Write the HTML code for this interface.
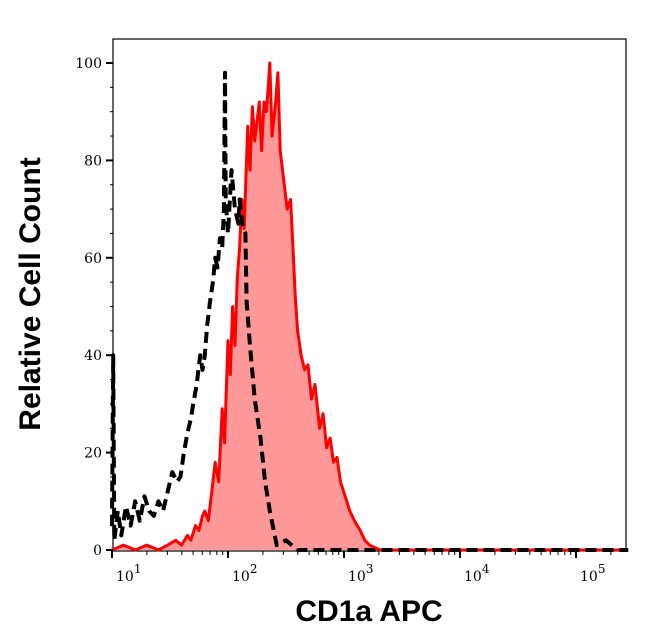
<!DOCTYPE html>
<html><head><meta charset="utf-8"><style>
html,body{margin:0;padding:0;background:#fff;width:646px;height:641px;overflow:hidden}
svg{display:block}
.tick{font-family:"DejaVu Serif","Liberation Serif",serif;font-size:14px;fill:#000}
.title{font-family:"Liberation Sans",sans-serif;font-weight:bold;font-size:30px;fill:#000}
</style></head><body>
<svg id="chart" width="646" height="641">
<rect x="113" y="39" width="513" height="512" fill="none" stroke="#000" stroke-width="1.2"/>
<g id="marks"></g>
<g id="axes"></g>
<text class="title" x="369" y="621" text-anchor="middle">CD1a APC</text>
<text class="title" transform="translate(40,294) rotate(-90)" text-anchor="middle">Relative Cell Count</text>
</svg>
<script>
// data: x in log10 units, y in % of max
const redX = [1.00,1.10,1.20,1.30,1.40,1.48,1.55,1.60,1.65,1.68,1.72,1.75,1.78,1.80,1.83,1.86,1.89,1.92,1.95,1.97,2.00,2.02,2.04,2.06,2.08,2.10,2.12,2.14,2.17,2.19,2.21,2.23,2.25,2.27,2.29,2.31,2.33,2.35,2.36,2.38,2.41,2.43,2.45,2.48,2.51,2.54,2.56,2.58,2.60,2.63,2.66,2.69,2.72,2.75,2.79,2.82,2.85,2.88,2.91,2.94,2.97,3.01,3.05,3.09,3.14,3.18,3.22,3.31,4.00,5.00,5.45];
const redY = [0,1,0,1,0,1,2,1,3,2,5,4,7,8,6,12,18,14,29,22,43,36,50,42,56,62,72,66,87,78,91,84,88,92,82,92,90,96,100,85,92,98,82,76,70,72,62,52,45,40,37,38,31,34,25,28,21,23,18,19,14,11,8,6,4,2,1,0,0,0,0];
const blkX = [1.00,1.01,1.02,1.05,1.08,1.12,1.16,1.20,1.24,1.28,1.32,1.36,1.40,1.44,1.48,1.52,1.56,1.59,1.62,1.65,1.68,1.70,1.73,1.76,1.78,1.80,1.82,1.845,1.87,1.89,1.91,1.93,1.95,1.965,1.974,1.98,2.00,2.03,2.06,2.09,2.10,2.13,2.15,2.16,2.19,2.23,2.28,2.32,2.36,2.42,2.50,2.60,3.00,4.00,5.45];
const blkY = [5,40,2,8,3,9,5,10,6,11,8,7,10,8,12,16,14,15,20,24,27,30,34,40,37,40,46,51,55,60,58,64,62,70,98,72,65,78,70,67,72,66,65,51,42,31,23,14,8,1,2,0,0,0,0];
const yTicks = [0,20,40,60,80,100];
const xDecades = [1,2,3,4,5];

const X0=112, DEC=116, Y0=550, YS=4.87;
const xs = v => X0 + (v-1)*DEC;
const ys = v => Y0 - v*YS;
const NS='http://www.w3.org/2000/svg';
const marks=document.getElementById('marks'), axes=document.getElementById('axes');
function mk(tag,attrs,parent){const e=document.createElementNS(NS,tag);for(const k in attrs)e.setAttribute(k,attrs[k]);parent.appendChild(e);return e;}

let rp = redX.map((v,i)=>xs(v).toFixed(1)+','+ys(redY[i]).toFixed(1)).join(' ');
const fill=mk('polygon',{points:xs(redX[0])+','+Y0+' '+rp+' '+xs(redX[redX.length-1])+','+Y0,fill:'#ff9999',stroke:'none'},marks);


const rl=mk('polyline',{points:rp,fill:'none',stroke:'#ff0000','stroke-width':3,'stroke-linejoin':'round'},marks);


let bp = blkX.map((v,i)=>xs(v).toFixed(1)+','+ys(blkY[i]).toFixed(1)).join(' ');
const bl=mk('polyline',{points:bp,fill:'none',stroke:'#000','stroke-width':4,'stroke-dasharray':'11,6','stroke-linejoin':'round'},marks);



for(let v=0;v<=100;v+=5){
  const major = v%20===0;
  const t=mk('line',{x1:113,x2:113-(major?7:3),y1:ys(v),y2:ys(v),stroke:'#000','stroke-width':major?2:1},axes);
  
  
}
yTicks.forEach(v=>{
  const t=mk('text',{x:102,y:ys(v)+5,'text-anchor':'end',class:'tick'},axes);
  t.textContent=v;
  
  
});
xDecades.forEach(d=>{
  for(let m=1;m<10;m++){
    const x=xs(d+Math.log10(m));
    if(x>626)break;
    const t=mk('line',{x1:x,x2:x,y1:551,y2:551+(m===1?7:4),stroke:'#000','stroke-width':m===1?2:1},axes);
    
    
  }
  const t=mk('text',{x:xs(d)+4,y:581,class:'tick'},axes);
  
  
  t.textContent='10';
  const s=mk('tspan',{dy:-8,'font-size':'12px'},t);
  s.textContent=d;
});
</script>
</body></html>
